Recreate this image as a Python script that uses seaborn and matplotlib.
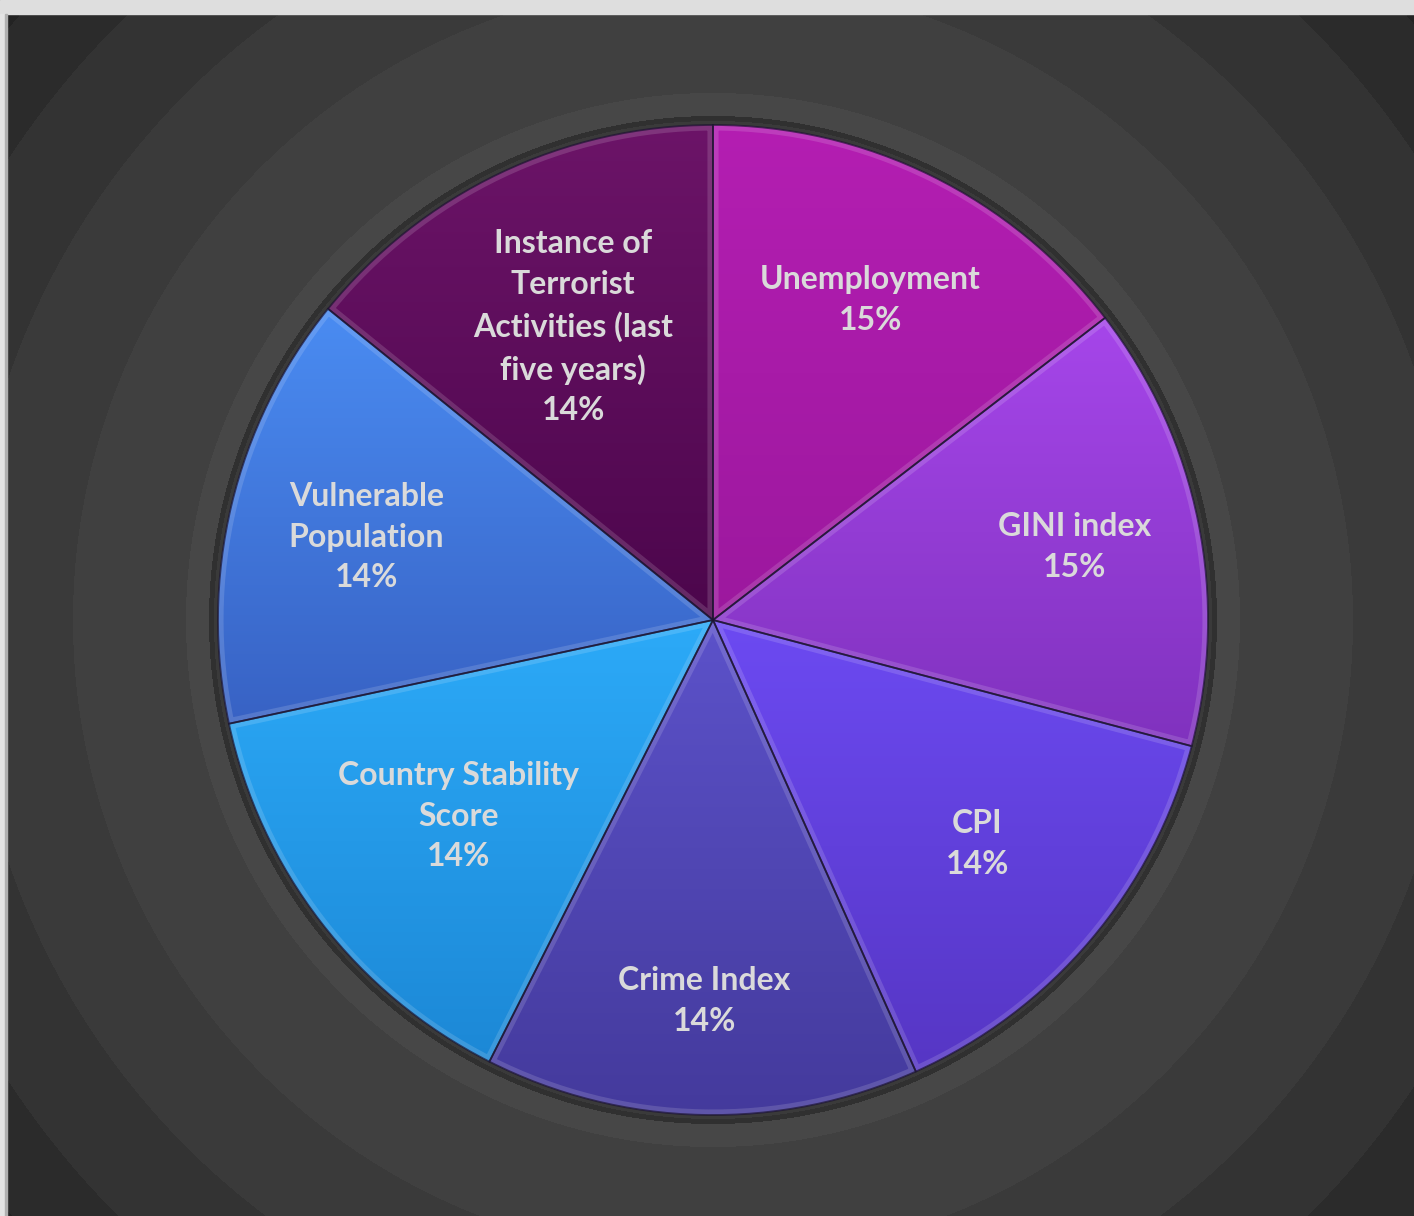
import numpy as np
import matplotlib
matplotlib.use("Agg")
import matplotlib.pyplot as plt
from matplotlib.patches import Wedge, Rectangle
from matplotlib.colors import LinearSegmentedColormap, to_rgb
import seaborn as sns

sns.set_theme(style="dark")
plt.rcParams['font.family'] = ['Lato', 'DejaVu Sans']

# data
categories = ["Unemployment", "GINI index", "CPI", "Crime Index",
              "Country Stability\nScore", "Vulnerable\nPopulation",
              "Instance of\nTerrorist\nActivities (last\nfive years)"]
shares = [14.55, 14.55, 14.18, 14.18, 14.18, 14.18, 14.18]

# slice gradients (top colour, bottom colour)
top_colors = ["#B41EB2", "#A646EA", "#6C4AF2", "#5C52CA", "#2CAAF8", "#4A8CF2", "#6C1468"]
bottom_colors = ["#9C189E", "#8032BE", "#5636C4", "#443A9C", "#1C88D6", "#3862C4", "#4C064C"]
label_r = [0.72, 0.745, 0.70, 0.77, 0.65, 0.72, 0.655]

W, H = 1414, 1216
cx, cy, R = 713, H - 620, 495

fig = plt.figure(figsize=(W / 100, H / 100), dpi=100)
ax = fig.add_axes([0, 0, 1, 1])

# radial banded background
yy, xx = np.mgrid[0:H, 0:W] + 0.5
rr = np.hypot(xx - cx, yy - cy)
edges = [499, 504, 527, 640, 745, 842, 920]
shades = ["#3a3a3a", "#303030", "#474747", "#404040", "#3a3a3a", "#333333", "#2b2b2b", "#232323"]
pal = np.array([to_rgb(c) for c in shades])
bg = pal[np.digitize(rr, edges)]
ax.imshow(bg, extent=[0, W, 0, H], origin="lower", aspect="auto", zorder=0)

wedges, _ = ax.pie(shares, center=(cx, cy), radius=R, startangle=90,
                   counterclock=False, colors=top_colors,
                   wedgeprops=dict(linewidth=0))

grad = np.linspace(0, 1, 256).reshape(-1, 1)
total = sum(shares)
for w, name, v, c_top, c_bot, lr in zip(wedges, categories, shares,
                                        top_colors, bottom_colors, label_r):
    verts = w.get_path().vertices
    x0, x1 = verts[:, 0].min(), verts[:, 0].max()
    y0, y1 = verts[:, 1].min(), verts[:, 1].max()
    cmap = LinearSegmentedColormap.from_list("g", [c_bot, c_top])
    im = ax.imshow(grad, extent=[x0, x1, y0, y1], origin="lower", cmap=cmap,
                   aspect="auto", interpolation="bilinear", zorder=2)
    im.set_clip_path(w)
    # bevel highlight and dark seam
    hl = Wedge((cx, cy), R, w.theta1, w.theta2, fill=False,
               edgecolor="white", alpha=0.14, lw=8, zorder=3)
    ax.add_patch(hl)
    hl.set_clip_path(w)
    ax.add_patch(Wedge((cx, cy), R, w.theta1, w.theta2, fill=False,
                       edgecolor="#1c1430", alpha=0.7, lw=1.3, zorder=4))
    mid = np.deg2rad((w.theta1 + w.theta2) / 2)
    ax.text(cx + lr * R * np.cos(mid), cy + lr * R * np.sin(mid),
            f"{name}\n{v / total * 100:.0f}%", ha="center", va="center",
            fontsize=23, fontweight="bold", color="#dadada",
            linespacing=1.48, zorder=5)

# window chrome strips
ax.add_patch(Rectangle((0, H - 14), W, 14, color="#dedede", zorder=6))
ax.add_patch(Rectangle((0, 0), 6, H - 14, color="#e4e4e4", zorder=6))
ax.add_patch(Rectangle((5, 0), 1.5, H - 14, color="#b0b0b0", zorder=6))

ax.set_xlim(0, W)
ax.set_ylim(0, H)
ax.set_axis_off()
fig.savefig("out.png", dpi=100)
